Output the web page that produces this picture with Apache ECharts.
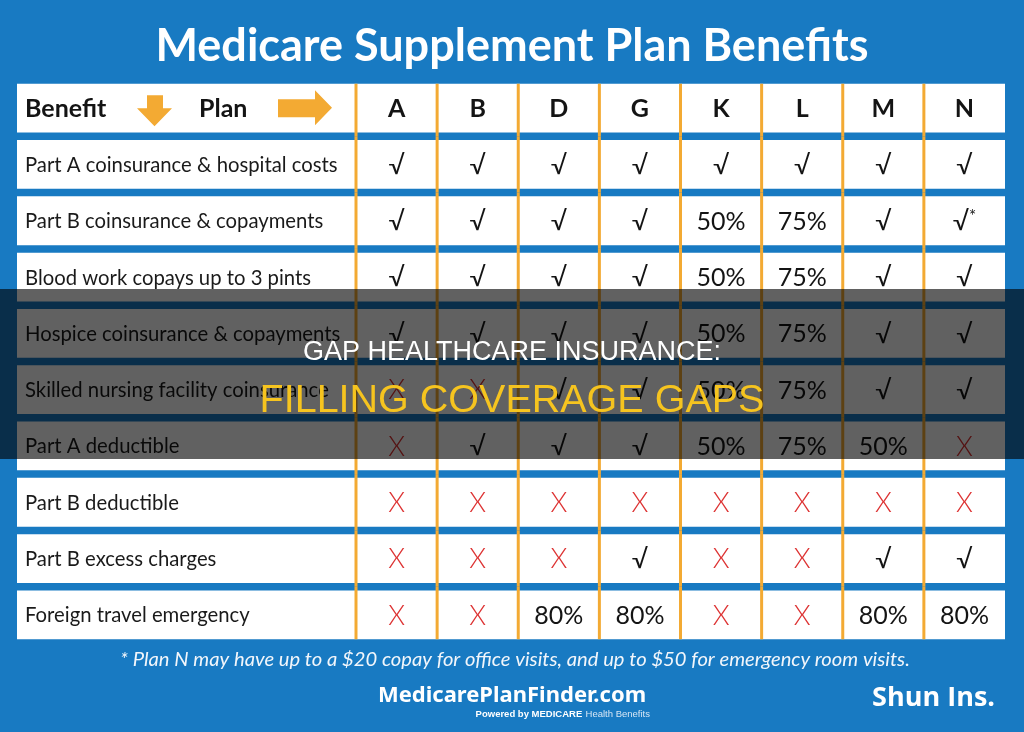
<!DOCTYPE html>
<html>
<head>
<meta charset="utf-8">
<script src="https://cdn.jsdelivr.net/npm/echarts@6/dist/echarts.min.js"></script>
<style>
  html, body { margin: 0; padding: 0; background: #187ac2; }
  #chart { width: 1024px; height: 732px; }
</style>
</head>
<body>
<div id="chart"></div>
<script>
// plans across the top
var plans = ['A', 'B', 'D', 'G', 'K', 'L', 'M', 'N'];
// benefits down the side
var benefits = [
  'Part A coinsurance & hospital costs',
  'Part B coinsurance & copayments',
  'Blood work copays up to 3 pints',
  'Hospice coinsurance & copayments',
  'Skilled nursing facility coinsurance',
  'Part A deductible',
  'Part B deductible',
  'Part B excess charges',
  'Foreign travel emergency'
];
// one row per benefit, one entry per plan
var coverage = [
  ['√', '√', '√', '√', '√', '√', '√', '√'],
  ['√', '√', '√', '√', '50%', '75%', '√', '√*'],
  ['√', '√', '√', '√', '50%', '75%', '√', '√'],
  ['√', '√', '√', '√', '50%', '75%', '√', '√'],
  ['X', 'X', '√', '√', '50%', '75%', '√', '√'],
  ['X', '√', '√', '√', '50%', '75%', '50%', 'X'],
  ['X', 'X', 'X', 'X', 'X', 'X', 'X', 'X'],
  ['X', 'X', 'X', '√', 'X', 'X', '√', '√'],
  ['X', 'X', '80%', '80%', 'X', 'X', '80%', '80%']
];

var ORANGE = '#f3aa33';
var rowNames = ['header'].concat(benefits);

var chart = echarts.init(document.getElementById('chart'));

function valueStyle(v, row) {
  var s = { fill: '#141414', align: 'center', verticalAlign: 'middle', fontFamily: 'Lato' };
  if (row === 0) {
    s.text = v; s.fontSize = 25; s.fontWeight = 'bold';
  } else if (v === 'X') {
    s.text = 'X'; s.fontSize = 27; s.fontWeight = 300; s.fill = '#dd3333';
  } else if (v === '√*') {
    s.text = '{c|√}{s|*}';
    s.rich = {
      c: { fontSize: 26, fontFamily: 'Lato', fill: '#141414' },
      s: { fontSize: 17, fontFamily: 'Lato', fill: '#141414', verticalAlign: 'top', padding: [0, 0, 10, 0] }
    };
  } else if (v === '√') {
    s.text = v; s.fontSize = 26;
  } else {
    s.text = v; s.fontSize = 25;
  }
  return s;
}

function planCell(params, api) {
  var col = api.value(0), row = api.value(1);
  var center = api.coord([col, row]);
  var size = api.size([1, 1]);
  var cellH = size[1] - 7.5;
  var left = center[0] - size[0] / 2;
  var top = center[1] - cellH / 2;
  var lineTop = row === 0 ? top : center[1] - size[1] / 2;
  var lineBottom = row === rowNames.length - 1 ? top + cellH : center[1] + size[1] / 2;
  var v = row === 0 ? plans[col] : coverage[row - 1][col];
  return {
    type: 'group',
    children: [
      { type: 'rect', shape: { x: left, y: top, width: size[0], height: cellH }, style: { fill: '#fff' } },
      { type: 'line', z2: 5, shape: { x1: left, y1: lineTop, x2: left, y2: lineBottom },
        style: { stroke: ORANGE, lineWidth: 3 } },
      { type: 'text', z2: 6, x: center[0], y: center[1] + 1, style: valueStyle(v, row) }
    ]
  };
}

function labelCell(params, api) {
  var row = api.value(1);
  var center = api.coord([0, row]);
  var size = api.size([1, 1]);
  var cs = params.coordSys;
  var cellH = size[1] - 7.5;
  var top = center[1] - cellH / 2;
  var cy = center[1];
  var children = [
    { type: 'rect', shape: { x: cs.x, y: top, width: cs.width, height: cellH }, style: { fill: '#fff' } }
  ];
  if (row === 0) {
    var x = cs.x;
    children.push({ type: 'text', x: x + 8, y: cy + 1,
      style: { text: 'Benefit', fontFamily: 'Lato', fontWeight: 'bold', fontSize: 25, fill: '#141414', verticalAlign: 'middle' } });
    children.push({ type: 'polygon', shape: { points: [
      [x + 130, cy - 13], [x + 146, cy - 13], [x + 146, cy], [x + 155, cy],
      [x + 137.5, cy + 18], [x + 120, cy], [x + 130, cy]
    ] }, style: { fill: ORANGE } });
    children.push({ type: 'text', x: x + 182, y: cy + 1,
      style: { text: 'Plan', fontFamily: 'Lato', fontWeight: 'bold', fontSize: 25, fill: '#141414', verticalAlign: 'middle' } });
    children.push({ type: 'polygon', shape: { points: [
      [x + 261, cy - 9], [x + 298, cy - 9], [x + 298, cy - 18], [x + 315, cy - 0.5],
      [x + 298, cy + 17], [x + 298, cy + 9], [x + 261, cy + 9]
    ] }, style: { fill: ORANGE } });
  } else {
    children.push({ type: 'text', x: cs.x + 8, y: cy + 1,
      style: { text: benefits[row - 1], fontFamily: 'Lato', fontSize: 20.3, fill: '#1a1a1a', verticalAlign: 'middle' } });
  }
  return { type: 'group', children: children };
}

var labelData = rowNames.map(function (n, i) { return [0, i]; });
var planData = [];
for (var r = 0; r < rowNames.length; r++) {
  for (var c = 0; c < plans.length; c++) planData.push([c, r]);
}

function hiddenCat(data, gridIndex, inverse) {
  return {
    type: 'category', data: data, gridIndex: gridIndex, inverse: !!inverse,
    axisLine: { show: false }, axisTick: { show: false }, axisLabel: { show: false }, splitLine: { show: false }
  };
}

chart.setOption({
  backgroundColor: '#187ac2',
  animation: false,
  title: {
    text: 'Medicare Supplement Plan Benefits',
    left: 'center',
    top: 19,
    textStyle: { color: '#ffffff', fontFamily: 'Lato', fontWeight: 'bold', fontSize: 45 }
  },
  grid: [
    { left: 17, top: 80, width: 339, height: 563 },
    { left: 356, top: 80, width: 649, height: 563 }
  ],
  xAxis: [hiddenCat(['Benefit'], 0), hiddenCat(plans, 1)],
  yAxis: [hiddenCat(rowNames, 0, true), hiddenCat(rowNames, 1, true)],
  series: [
    { type: 'custom', xAxisIndex: 0, yAxisIndex: 0, renderItem: labelCell, data: labelData },
    { type: 'custom', xAxisIndex: 1, yAxisIndex: 1, renderItem: planCell, data: planData }
  ],
  graphic: [
    { type: 'rect', z: 100, x: 0, y: 289, shape: { width: 1024, height: 170 },
      style: { fill: 'rgba(0,0,0,0.62)' } },
    { type: 'text', z: 101, x: 512, y: 353,
      style: { text: 'GAP HEALTHCARE INSURANCE:', fill: '#ffffff', fontFamily: 'Liberation Sans', fontSize: 27,
        align: 'center', verticalAlign: 'middle', textAlign: 'center', textVerticalAlign: 'middle' } },
    { type: 'text', z: 101, x: 512, y: 401,
      style: { text: 'FILLING COVERAGE GAPS', fill: '#f6c41f', fontFamily: 'Liberation Sans', fontSize: 39.5,
        align: 'center', verticalAlign: 'middle', textAlign: 'center', textVerticalAlign: 'middle' } },
    { type: 'text', z: 101, x: 515, y: 659,
      style: { text: '* Plan N may have up to a $20 copay for office visits, and up to $50 for emergency room visits.',
        fill: '#f2f6fb', fontFamily: 'Lato', fontStyle: 'italic', fontSize: 20.2,
        align: 'center', verticalAlign: 'middle', textAlign: 'center', textVerticalAlign: 'middle' } },
    { type: 'text', z: 101, x: 512, y: 696,
      style: { text: 'MedicarePlanFinder.com', fill: '#ffffff', fontFamily: 'Noto Sans', fontWeight: 'bold', fontSize: 22,
        align: 'center', verticalAlign: 'middle', textAlign: 'center', textVerticalAlign: 'middle' } },
    { type: 'text', z: 101, x: 650, y: 714,
      style: { text: '{b|Powered by MEDICARE} {l|Health Benefits}',
        align: 'right', verticalAlign: 'middle', textAlign: 'right', textVerticalAlign: 'middle',
        rich: {
          b: { fill: '#ffffff', fontFamily: 'Liberation Sans', fontWeight: 'bold', fontSize: 9.5 },
          l: { fill: '#d6e6f5', fontFamily: 'Liberation Sans', fontSize: 9.5 }
        } } },
    { type: 'text', z: 101, x: 995, y: 698,
      style: { text: 'Shun Ins.', fill: '#ffffff', fontFamily: 'Open Sans', fontWeight: 'bold', fontSize: 27,
        align: 'right', verticalAlign: 'middle', textAlign: 'right', textVerticalAlign: 'middle' } }
  ]
});
</script>
</body>
</html>
